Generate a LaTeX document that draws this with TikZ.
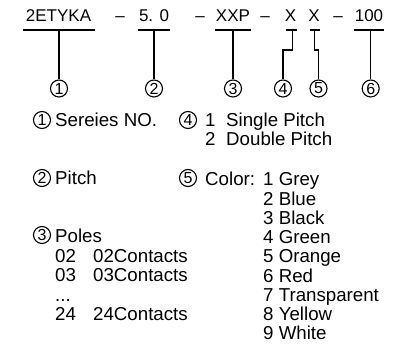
\documentclass[tikz,border=0pt]{standalone}
\usepackage{fontspec}
\setmainfont{Liberation Sans}
\usetikzlibrary{calc}
\begin{document}
\begin{tikzpicture}[x=1pt,y=-1pt,
  code/.style={font=\fontsize{17}{17}\selectfont, inner sep=0, anchor=base},
  lbl/.style={font=\fontsize{18.7}{18.7}\selectfont, inner sep=0, anchor=base west},
  num/.style={circle, draw, line width=1.1pt, minimum size=17pt, inner sep=0,
    font=\fontsize{16}{16}\selectfont},
  bar/.style={line width=1.6pt},
  lead/.style={line width=1.4pt}]
\useasboundingbox (0,0) rectangle (401,347);
% code line
\node[code] (t1) at (58.5,22) {2ETYKA};
\node[code] (d1) at (120,22) {–};
\node[code] (t2) at (154,22) {5. 0};
\node[code] (d2) at (200,22) {–};
\node[code] (t3) at (233,22) {XXP};
\node[code] (d3) at (265,22) {–};
\node[code] (t4) at (290.5,22) {X};
\node[code] (t5) at (314,22) {X};
\node[code] (d4) at (338,22) {–};
\node[code] (t6) at (369,22) {100};
% underlines
\coordinate (u1a) at (23,30); \coordinate (u1b) at (95,30); \coordinate (u1) at (59,30);
\coordinate (u2a) at (138,30); \coordinate (u2b) at (170,30); \coordinate (u2) at (154,30);
\coordinate (u3a) at (215,30); \coordinate (u3b) at (251,30); \coordinate (u3) at (233,30);
\coordinate (u4a) at (286,30); \coordinate (u4b) at (297,30); \coordinate (u4) at (292.7,30);
\coordinate (u5a) at (310,30); \coordinate (u5b) at (320,30); \coordinate (u5) at (314.3,30);
\coordinate (u6a) at (354,30); \coordinate (u6b) at (384,30); \coordinate (u6) at (370.7,30);
\foreach \i in {1,...,6} {\draw[bar] (u\i a) -- (u\i b);}
% circled numbers top
\node[num] (c1) at (59,88.5) {1};
\node[num] (c2) at (154,88.5) {2};
\node[num] (c3) at (233,88.5) {3};
\node[num] (c4) at (283,88.5) {4};
\node[num] (c5) at (318.5,88.5) {5};
\node[num] (c6) at (370.7,88.5) {6};
\coordinate (k4a) at (292.7,50); \coordinate (k4b) at (283,50);
\coordinate (k5a) at (314.3,50); \coordinate (k5b) at (318.5,50);
\draw[lead] (u1) -- (c1.north);
\draw[lead] (u2) -- (c2.north);
\draw[lead] (u3) -- (c3.north);
\draw[lead] (u4) -- (k4a) -- (k4b) -- (c4.north);
\draw[lead] (u5) -- (k5a) -- (k5b) -- (c5.north);
\draw[lead] (u6) -- (c6.north);
% legend
\node[num] (l1) at (42,120) {1};
\node[lbl] (s1) at (55,127) {Sereies NO.};
\node[num] (l2) at (42,178) {2};
\node[lbl] (s2) at (55,185) {Pitch};
\node[num] (l3) at (42,235) {3};
\node[lbl] (s3) at (55,242) {Poles};
\node[lbl] (p1n) at (55,262) {02};
\node[lbl] (p1t) at (93,262) {02Contacts};
\node[lbl] (p2n) at (55,281.5) {03};
\node[lbl] (p2t) at (93,281.5) {03Contacts};
\node[lbl] (pd) at (55,301) {...};
\node[lbl] (p3n) at (55,320) {24};
\node[lbl] (p3t) at (93,320) {24Contacts};
\node[num] (l4) at (188,120) {4};
\node[lbl] (s4a) at (205,127) {1};
\node[lbl] (s4at) at (226,127) {Single Pitch};
\node[lbl] (s4b) at (205,146) {2};
\node[lbl] (s4bt) at (226,146) {Double Pitch};
\node[num] (l5) at (188,178) {5};
\node[lbl] (s5) at (205,186) {Color:};
\foreach \t [count=\i] in {1 Grey,2 Blue,3 Black,4 Green,5 Orange,6 Red,7 Transparent,8 Yellow,9 White}
  \node[lbl] (col\i) at (263,{186+19.2*(\i-1)}) {\t};
\end{tikzpicture}
\end{document}
